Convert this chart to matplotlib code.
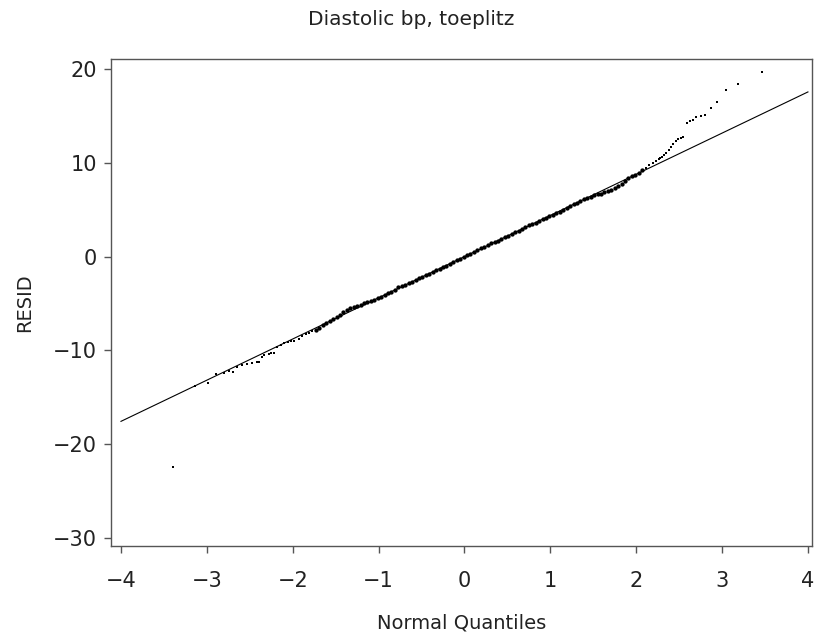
import numpy as np
import matplotlib
matplotlib.use("Agg")
import matplotlib.pyplot as plt

plt.rcParams["font.family"] = ["DejaVu Sans"]

title = "Diastolic bp, toeplitz"
x_label = "Normal Quantiles"
y_label = "RESID"

# reference line: resid = mu + sigma * quantile
ref_mu = 0.0
ref_sigma = 4.39
ref_range = [-4.0, 4.0]

lower_q = [-3.40, -3.14, -2.99, -2.89, -2.80, -2.74, -2.70, -2.65, -2.59, -2.53,
           -2.47, -2.42, -2.39, -2.36, -2.33, -2.28, -2.25, -2.22, -2.18, -2.14,
           -2.10, -2.06, -2.02, -1.98, -1.93, -1.89, -1.85, -1.81, -1.77]
lower_r = [-22.45, -13.75, -13.5, -12.5, -12.4, -12.2, -12.3, -11.8, -11.5, -11.4,
           -11.35, -11.25, -11.2, -10.7, -10.5, -10.35, -10.3, -10.3, -9.6, -9.4,
           -9.25, -9.15, -9.0, -8.95, -8.8, -8.5, -8.3, -8.1, -7.95]

mid_q = [-1.73, -1.69, -1.65, -1.61, -1.57, -1.53, -1.49, -1.45, -1.41, -1.37,
         -1.33, -1.29, -1.25, -1.21, -1.17, -1.13, -1.09, -1.05, -1.01, -0.97,
         -0.93, -0.89, -0.85, -0.81, -0.77, -0.73, -0.69, -0.65, -0.61, -0.57,
         -0.53, -0.49, -0.45, -0.41, -0.37, -0.33, -0.29, -0.25, -0.21, -0.17,
         -0.13, -0.09, -0.05, -0.01, 0.03, 0.07, 0.11, 0.15, 0.19, 0.23,
         0.27, 0.31, 0.35, 0.39, 0.43, 0.47, 0.51, 0.55, 0.59, 0.63,
         0.67, 0.71, 0.75, 0.79, 0.83, 0.87, 0.91, 0.95, 0.99, 1.03,
         1.07, 1.11, 1.15, 1.19, 1.23, 1.27, 1.31, 1.35, 1.39, 1.43,
         1.47, 1.51, 1.55, 1.59, 1.63, 1.67, 1.71, 1.75, 1.79, 1.83,
         1.87, 1.91, 1.95, 1.99, 2.03, 2.07]
mid_r = [-7.79, -7.57, -7.34, -7.07, -6.84, -6.62, -6.39, -6.17, -5.89, -5.66,
         -5.49, -5.36, -5.24, -5.11, -4.99, -4.86, -4.74, -4.61, -4.43, -4.31,
         -4.13, -3.91, -3.73, -3.51, -3.28, -3.10, -2.98, -2.85, -2.68, -2.50,
         -2.33, -2.15, -1.98, -1.80, -1.62, -1.45, -1.27, -1.15, -0.97, -0.80,
         -0.57, -0.40, -0.22, -0.04, 0.13, 0.31, 0.48, 0.66, 0.88, 1.06,
         1.24, 1.41, 1.54, 1.71, 1.89, 2.06, 2.24, 2.41, 2.59, 2.77,
         2.94, 3.17, 3.34, 3.52, 3.64, 3.82, 3.99, 4.17, 4.30, 4.47,
         4.60, 4.77, 4.95, 5.17, 5.35, 5.58, 5.75, 5.93, 6.10, 6.28,
         6.40, 6.53, 6.65, 6.73, 6.86, 6.98, 7.11, 7.28, 7.51, 7.78,
         8.11, 8.38, 8.61, 8.74, 8.91, 9.19]

upper_q = [2.11, 2.15, 2.19, 2.23, 2.26, 2.28, 2.30, 2.32, 2.35, 2.38,
           2.40, 2.43, 2.46, 2.49, 2.52, 2.55, 2.59, 2.63, 2.66, 2.70,
           2.75, 2.80, 2.87, 2.94, 3.04, 3.19, 3.46]
upper_r = [9.5, 9.75, 10.0, 10.25, 10.4, 10.5, 10.65, 10.8, 11.1, 11.4,
           11.7, 12.05, 12.3, 12.5, 12.65, 12.8, 14.2, 14.5, 14.6, 14.9,
           15.0, 15.1, 15.85, 16.45, 17.8, 18.4, 19.65]

x_ticks = [-4, -3, -2, -1, 0, 1, 2, 3, 4]
y_ticks = [-30, -20, -10, 0, 10, 20]

text_color = "#222222"

fig = plt.figure(figsize=(8.23, 6.38), dpi=100)
ax = fig.add_axes([0.1349, 0.1442, 0.8517, 0.7633])

ref_x = np.array(ref_range)
ax.plot(ref_x, ref_mu + ref_sigma * ref_x, color="black", lw=0.8)

ax.plot(lower_q, lower_r, "s", color="black", ms=1.6, mew=0)
ax.plot(mid_q, mid_r, "o", color="black", ms=3.1, mew=0)
ax.plot(upper_q, upper_r, "s", color="black", ms=1.6, mew=0)

ax.set_xlim(-4.116, 4.047)
ax.set_ylim(-30.85, 21.07)
ax.set_xticks(x_ticks)
ax.set_yticks(y_ticks)
ax.tick_params(direction="out", length=5, width=1.0, colors="#555555",
               labelsize=15, labelcolor=text_color)
ax.tick_params(axis="x", pad=13)
ax.tick_params(axis="y", pad=5)
for spine in ax.spines.values():
    spine.set_linewidth(1.0)
    spine.set_color("#555555")

ax.set_xlabel(x_label, fontsize=14, color=text_color, labelpad=16)
ax.set_ylabel(y_label, fontsize=14, color=text_color, labelpad=14)
fig.suptitle(title, fontsize=14.5, color=text_color, y=0.985)

fig.savefig("out.png", dpi=100)
